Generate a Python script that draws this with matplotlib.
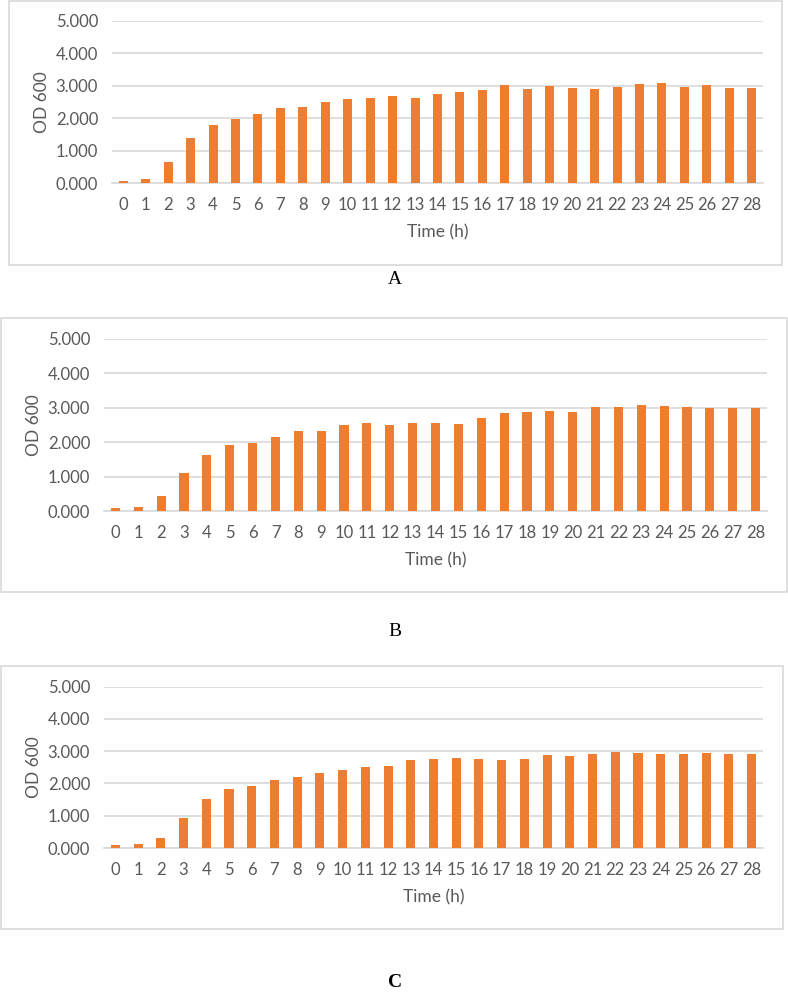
import numpy as np
import matplotlib.pyplot as plt
from matplotlib.patches import Rectangle

# data (OD 600 per hour)
hours = list(range(29))
od_a = [0.08, 0.13, 0.64, 1.39, 1.79, 1.99, 2.14, 2.31, 2.36, 2.49, 2.59, 2.62, 2.68, 2.62,
        2.75, 2.80, 2.86, 3.02, 2.89, 2.98, 2.94, 2.91, 2.97, 3.06, 3.08, 2.96, 3.02, 2.94, 2.94]
od_b = [0.09, 0.11, 0.44, 1.09, 1.62, 1.91, 1.98, 2.15, 2.32, 2.32, 2.49, 2.54, 2.50, 2.56,
        2.54, 2.52, 2.70, 2.83, 2.87, 2.90, 2.87, 3.02, 3.02, 3.08, 3.06, 3.02, 2.99, 3.00, 2.99]
od_c = [0.08, 0.12, 0.32, 0.94, 1.51, 1.82, 1.92, 2.11, 2.21, 2.31, 2.42, 2.52, 2.54, 2.73,
        2.76, 2.79, 2.76, 2.72, 2.76, 2.87, 2.84, 2.90, 2.98, 2.93, 2.91, 2.91, 2.94, 2.92, 2.92]
yticks = [0, 1, 2, 3, 4, 5]
panel_labels = ['A', 'B', 'C']

W, H = 788, 997
bar_color = '#ED7D31'
grid_color = '#d9d9d9'
text_color = '#595959'

plt.rcParams['font.family'] = ['Lato', 'DejaVu Sans']

fig = plt.figure(figsize=(W / 100, H / 100), dpi=100)


def px_rect(x0, y0, x1, y1):
    '''pixel box (top-left origin) -> figure fraction [l, b, w, h]'''
    return [x0 / W, 1 - y1 / H, (x1 - x0) / W, (y1 - y0) / H]


def draw_panel(vals, box, plot, label, label_y, bold=False):
    # outer chart border
    l, b, w, h = px_rect(*box)
    fig.patches.append(Rectangle((l, b), w, h, transform=fig.transFigure,
                                 facecolor='none', edgecolor=grid_color, lw=1.2))
    ax = fig.add_axes(px_rect(*plot))
    ax.bar(hours, vals, width=0.4, color=bar_color, zorder=3)
    ax.set_xlim(-0.5, 28.5)
    ax.set_ylim(0, 5)
    ax.set_yticks(yticks)
    ax.set_yticklabels(['%.3f' % v for v in yticks])
    ax.set_xticks(hours)
    ax.grid(axis='y', color=grid_color, lw=1.2, zorder=0)
    for s in ['top', 'right', 'left']:
        ax.spines[s].set_visible(False)
    ax.spines['bottom'].set_color(grid_color)
    ax.spines['bottom'].set_linewidth(1.2)
    ax.tick_params(length=0, colors=text_color, labelsize=12)
    ax.tick_params(axis='x', pad=10)
    ax.tick_params(axis='y', pad=10)
    ax.set_xlabel('Time (h)', color=text_color, fontsize=12.5, labelpad=8)
    ax.set_ylabel('OD 600', color=text_color, fontsize=12.5, labelpad=4)
    ax.patch.set_alpha(0)
    fig.text(395 / W, 1 - label_y / H, label, ha='center', va='center',
             family='Liberation Serif', fontsize=14,
             fontweight='bold' if bold else 'normal')


draw_panel(od_a, (9, 1, 782, 265), (112, 20.7, 763, 183.3), panel_labels[0], 280)
draw_panel(od_b, (1, 318, 787, 592), (104, 338.7, 767, 511), panel_labels[1], 632)
draw_panel(od_c, (1, 666, 783, 929), (104, 686.7, 763, 848), panel_labels[2], 982, bold=True)

fig.savefig('out.png', dpi=100)
